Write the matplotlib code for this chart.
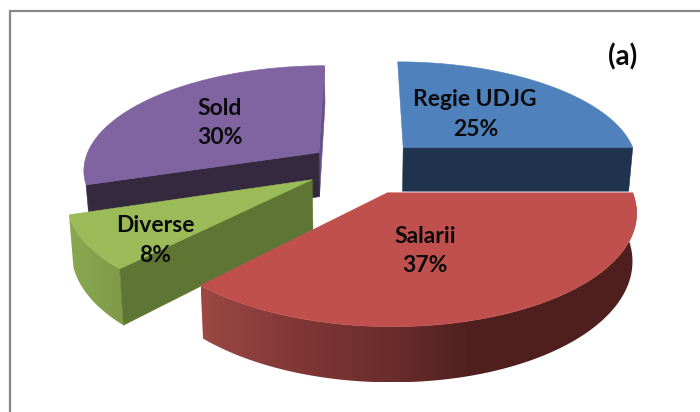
import numpy as np
import matplotlib
matplotlib.use("Agg")
import matplotlib.pyplot as plt
from matplotlib.colors import LinearSegmentedColormap
from matplotlib.patches import Polygon

plt.rcParams['font.family'] = ['Lato', 'DejaVu Sans']

# Chart data
labels = ["Regie UDJG", "Salarii", "Diverse", "Sold"]
values = [25, 37, 8, 30]
panel_label = "(a)"

top_colors = ['#4f81bd', '#c0504d', '#9bbb59', '#8064a2']
explode = [0.26, 0.27, 0.24, 0.225]
depths = [45, 45, 49, 45]

# Projection of the tilted pie, in image pixels
CX, CY = 361, 166
R, T = 236, 104
P = 0.154
SHRINK = 0.985


def project(u, v, depth=0):
    w = 1 + P * v
    x = CX + R * u / w
    y = CY - T * v / w
    if depth:
        x = CX + (x - CX) * SHRINK
        y = y + depth / w
    return x, y


def slice_edge(a1, a2, off_u, off_v, depth=0, n=120):
    a = np.radians(np.linspace(a1, a2, n))
    return project(off_u + np.cos(a), off_v + np.sin(a), depth)


fig = plt.figure(figsize=(7, 4.12), dpi=100)
ax = fig.add_axes([0, 0, 1, 1])
ax.axis('off')

# Chart frame, only top and left are in the crop
ax.plot([10, 10, 700], [412, 10.5, 10.5], color='#868686', lw=1.6, solid_joinstyle='miter')

# Slice angles, clockwise from 12 o'clock
fractions = np.array(values) / sum(values)
ends = 90 - 360 * np.cumsum(fractions)
starts = np.concatenate([[90], ends[:-1]])
mids = (starts + ends) / 2
off_u = np.array(explode) * np.cos(np.radians(mids))
off_v = np.array(explode) * np.sin(np.radians(mids))


def cut_face(i, angle, color, z):
    # Flat face running from the apex to the rim, at the given angle
    a = np.radians(angle)
    x0, y0 = project(off_u[i], off_v[i])
    x1, y1 = project(off_u[i] + np.cos(a), off_v[i] + np.sin(a))
    x2, y2 = project(off_u[i] + np.cos(a), off_v[i] + np.sin(a), depths[i])
    x3, y3 = project(off_u[i], off_v[i], depths[i])
    ax.add_patch(Polygon([(x0, y0), (x1, y1), (x2, y2), (x3, y3)], closed=True,
                         facecolor=color, edgecolor=color, lw=0.4, zorder=z))


def rim_side(i, x_stops, color_stops, z):
    # Outer curved side, a horizontal gradient clipped to the rim outline
    xt, yt = slice_edge(starts[i], ends[i], off_u[i], off_v[i])
    xb, yb = slice_edge(starts[i], ends[i], off_u[i], off_v[i], depths[i])
    px = np.concatenate([xt, xb[::-1]])
    py = np.concatenate([yt, yb[::-1]])
    outline = Polygon(np.column_stack([px, py]), closed=True, facecolor='none',
                      edgecolor='none', zorder=z)
    ax.add_patch(outline)
    x0, x1 = px.min(), px.max()
    stops = [(np.clip((x - x0) / (x1 - x0), 0, 1), c) for x, c in zip(x_stops, color_stops)]
    stops[0] = (0.0, stops[0][1])
    stops[-1] = (1.0, stops[-1][1])
    cmap = LinearSegmentedColormap.from_list("rim", stops)
    grad = np.linspace(0, 1, 256).reshape(1, -1)
    im = ax.imshow(grad, cmap=cmap, extent=(x0, x1, py.max(), py.min()),
                   aspect='auto', zorder=z)
    im.set_clip_path(outline)


def top_face(i, z):
    xs, ys = slice_edge(starts[i], ends[i], off_u[i], off_v[i])
    x0, y0 = project(off_u[i], off_v[i])
    pts = [(x0, y0)] + list(zip(xs, ys))
    ax.add_patch(Polygon(pts, closed=True, facecolor=top_colors[i],
                         edgecolor=top_colors[i], lw=0.4, zorder=z))


# Sold (back left)
cut_face(3, ends[3], '#68508a', 1)
cut_face(3, starts[3], '#35293f', 1.1)
top_face(3, 1.2)

# Regie UDJG (back right)
cut_face(0, ends[0], '#1f334f', 2)
top_face(0, 2.2)

# Diverse
rim_side(2, [70, 125], ['#8aa850', '#7f9a48'], 3)
cut_face(2, starts[2], '#5f7534', 3.1)
top_face(2, 3.2)

# Salarii (front)
rim_side(1, [200, 300, 400, 470, 640],
         ['#9c4844', '#7f3735', '#682c2b', '#4f1f1e', '#4f1f1e'], 4)
top_face(1, 4.2)

# Labels
label_pos = [(475, 99), (425, 236), (155, 225), (220, 108)]
pct_pos = [(476, 129), (425, 266), (155, 255), (220, 138)]
for name, val, p1, p2 in zip(labels, values, label_pos, pct_pos):
    ax.text(p1[0], p1[1], name, ha='center', va='center', fontsize=16.5,
            fontweight='bold', color='#0b0b0b', zorder=10)
    ax.text(p2[0], p2[1], f"{val}%", ha='center', va='center', fontsize=16.5,
            fontweight='bold', color='#0b0b0b', zorder=10)
ax.text(623, 57, panel_label, ha='center', va='center', fontsize=20,
        fontweight='bold', color='#0b0b0b', zorder=10)

ax.set_xlim(0, 700)
ax.set_ylim(412, 0)

fig.savefig("out.png", dpi=100, facecolor='white')
